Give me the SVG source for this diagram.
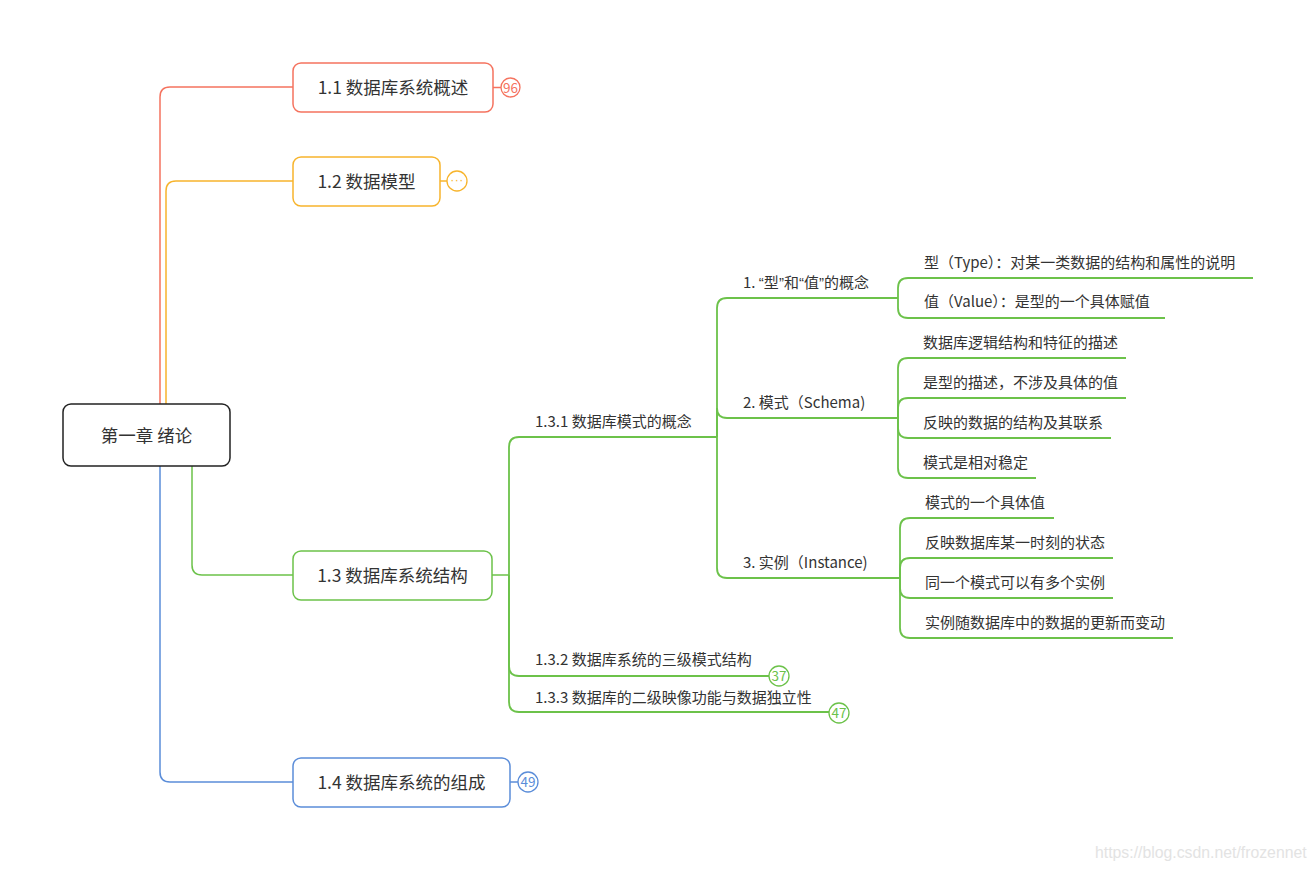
<svg xmlns="http://www.w3.org/2000/svg" width="1316" height="870" viewBox="0 0 1316 870">
<style>
text{font-family:"Noto Sans CJK SC","Liberation Sans",sans-serif;fill:#333}
.n{font-size:17.5px;text-anchor:middle}
.s{font-size:15px}
.q{font-family:"Liberation Sans",sans-serif}
.c{fill:none;stroke-width:1.5}
.u{fill:none;stroke:#6cc24a;stroke-width:1.8}
.red{stroke:#f5735f}.org{stroke:#f7b42c}.grn{stroke:#6cc24a}.blu{stroke:#5b8dd9}
.box{fill:#fff;stroke-width:1.5}
.bd{fill:#fff;stroke-width:1.3}
.bt{font-size:13.5px;text-anchor:middle}
</style>
<rect width="1316" height="870" fill="#fff"/>
<g id="connectors">
<path class="c red" d="M160,404 V97 Q160,87 170,87 H293"/>
<path class="c org" d="M166,404 V191 Q166,181 176,181 H293"/>
<path class="c grn" d="M192,466 V565 Q192,575 202,575 H293"/>
<path class="c blu" d="M160,466 V772 Q160,782 170,782 H293"/>
<path class="c red" d="M493,87.5 H501"/>
<path class="c org" d="M440,181 H447"/>
<path class="c blu" d="M510,782 H518"/>
<path class="c grn" d="M492,575 H509"/>
<path class="u" d="M509,575 V447 Q509,437 519,437 H717"/>
<path class="u" d="M509,575 V666 Q509,676 519,676 H769"/>
<path class="u" d="M509,575 V702 Q509,712 519,712 H829"/>
<path class="u" d="M717,437 V308 Q717,298 727,298 H898"/>
<path class="u" d="M717,437 V408 Q717,418 727,418 H898"/>
<path class="u" d="M717,437 V568 Q717,578 727,578 H900"/>
<path class="u" d="M898,298 V288 Q898,278 908,278 H1253"/>
<path class="u" d="M898,298 V308 Q898,318 908,318 H1165"/>
<path class="u" d="M898,418 V368 Q898,358 908,358 H1126"/>
<path class="u" d="M898,418 V408 Q898,398 908,398 H1126"/>
<path class="u" d="M898,418 V428 Q898,438 908,438 H1111"/>
<path class="u" d="M898,418 V468 Q898,478 908,478 H1036"/>
<path class="u" d="M900,578 V528 Q900,518 910,518 H1054"/>
<path class="u" d="M900,578 V568 Q900,558 910,558 H1113"/>
<path class="u" d="M900,578 V588 Q900,598 910,598 H1113"/>
<path class="u" d="M900,578 V628 Q900,638 910,638 H1173"/>
</g>
<g id="root">
<rect x="63" y="404" width="167" height="62" rx="8" fill="#fff" stroke="#222" stroke-width="1.5"/>
<text class="n" x="146.5" y="441.5">第一章 绪论</text>
</g>
<g id="n11">
<rect class="box red" x="293" y="63" width="200" height="49" rx="8"/>
<text class="n" x="393" y="94">1.1 数据库系统概述</text>
<circle class="bd red" cx="510.5" cy="87.5" r="9.5"/>
<text class="bt" x="510.5" y="92.5" style="fill:#f5735f">96</text>
</g>
<g id="n12">
<rect class="box org" x="293" y="157" width="147" height="49" rx="8"/>
<text class="n" x="366.5" y="188">1.2 数据模型</text>
<circle class="bd org" cx="457" cy="181" r="10"/>
<text class="bt q" x="457" y="184" style="fill:#f7b42c;font-family:'Liberation Sans',sans-serif;font-size:12px;letter-spacing:0.5px">···</text>
</g>
<g id="n13">
<rect class="box grn" x="293" y="551" width="199" height="49" rx="8"/>
<text class="n" x="392.5" y="582">1.3 数据库系统结构</text>
</g>
<g id="n14">
<rect class="box blu" x="293" y="758" width="217" height="49" rx="8"/>
<text class="n" x="401.5" y="789">1.4 数据库系统的组成</text>
<circle class="bd blu" cx="528" cy="782" r="10"/>
<text class="bt" x="528" y="787" style="fill:#5b8dd9">49</text>
</g>
<g id="n131"><text class="s" x="535" y="427">1.3.1 数据库模式的概念</text></g>
<g id="n132"><text class="s" x="535" y="665">1.3.2 数据库系统的三级模式结构</text>
<circle class="bd grn" cx="779" cy="676" r="10"/>
<text class="bt" x="779" y="681" style="fill:#6cc24a">37</text></g>
<g id="n133"><text class="s" x="535" y="703">1.3.3 数据库的二级映像功能与数据独立性</text>
<circle class="bd grn" cx="839" cy="713" r="10"/>
<text class="bt" x="839" y="718" style="fill:#6cc24a">47</text></g>
<g id="a1"><text class="s" x="743" y="288">1. <tspan class="q">“</tspan>型<tspan class="q">”</tspan>和<tspan class="q">“</tspan>值<tspan class="q">”</tspan>的概念</text></g>
<g id="a2"><text class="s" x="743" y="408">2. 模式（Schema)</text></g>
<g id="a3"><text class="s" x="743" y="568">3. 实例（Instance)</text></g>
<g id="b1"><text class="s" x="924" y="268">型（Type）：对某一类数据的结构和属性的说明</text></g>
<g id="b2"><text class="s" x="924" y="307">值（Value）：是型的一个具体赋值</text></g>
<g id="b3"><text class="s" x="923" y="348">数据库逻辑结构和特征的描述</text></g>
<g id="b4"><text class="s" x="923" y="388">是型的描述，不涉及具体的值</text></g>
<g id="b5"><text class="s" x="923" y="428">反映的数据的结构及其联系</text></g>
<g id="b6"><text class="s" x="923" y="468">模式是相对稳定</text></g>
<g id="b7"><text class="s" x="925" y="508">模式的一个具体值</text></g>
<g id="b8"><text class="s" x="925" y="548">反映数据库某一时刻的状态</text></g>
<g id="b9"><text class="s" x="925" y="588">同一个模式可以有多个实例</text></g>
<g id="b10"><text class="s" x="925" y="628">实例随数据库中的数据的更新而变动</text></g>
<text x="1095" y="858" style="font-family:'Liberation Sans',sans-serif;font-size:15.8px;fill:#e3e3e3">https://blog.csdn.net/frozennet</text>
</svg>
